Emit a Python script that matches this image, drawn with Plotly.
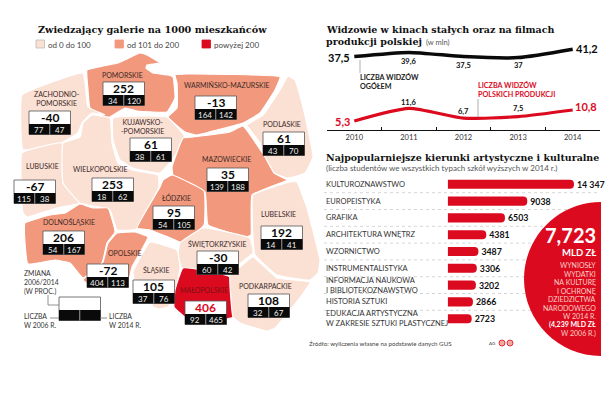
import plotly.graph_objects as go

SERIF = "DejaVu Serif"
SANS = "Lato"
RED = "#DC0A1E"
SALMON = "#F2987C"
PALE = "#FBE0D4"
DARK = "#2A2A2A"

# line chart
years = ["2010", "2011", "2012", "2013", "2014"]
viewers_total = [37.5, 39.6, 37.5, 37, 41.2]
viewers_polish = [5.3, 11.6, 6.7, 7.5, 10.8]

# bars
fields = ["KULTUROZNAWSTWO", "EUROPEISTYKA", "GRAFIKA", "ARCHITEKTURA WNĘTRZ", "WZORNICTWO",
          "INSTRUMENTALISTYKA", "INFORMACJA NAUKOWA<br>I BIBLIOTEKOZNAWSTWO", "HISTORIA SZTUKI",
          "EDUKACJA ARTYSTYCZNA<br>W ZAKRESIE SZTUKI PLASTYCZNEJ"]
students = [14347, 9038, 6503, 4381, 3487, 3306, 3202, 2866, 2723]

# map values
regions = ["POMORSKIE", "WARMIŃSKO-MAZURSKIE", "ZACHODNIO-<br>POMORSKIE", "KUJAWSKO-<br>-POMORSKIE", "PODLASKIE",
           "MAZOWIECKIE", "LUBUSKIE", "WIELKOPOLSKIE", "ŁÓDZKIE", "DOLNOŚLĄSKIE", "LUBELSKIE", "OPOLSKIE",
           "ŚWIĘTOKRZYSKIE", "ŚLĄSKIE", "MAŁOPOLSKIE", "PODKARPACKIE"]
change = [252, -13, -40, 61, 61, 35, -67, 253, 95, 206, 192, -72, -30, 105, 406, 108]
visits_2006 = [34, 164, 77, 38, 43, 139, 115, 18, 54, 54, 14, 404, 60, 37, 92, 32]
visits_2014 = [120, 142, 47, 61, 70, 188, 38, 62, 105, 167, 41, 113, 42, 76, 465, 67]

# map drawing, in page pixels
outlines = [
    [(87, 70), (103, 66), (118, 63), (127, 59), (140, 53), (147, 55), (160, 63), (147, 65), (146, 68), (153, 73),
     (168, 75), (173, 77), (175, 98), (167, 112), (137, 111), (125, 108), (110, 117), (105, 117), (90, 108), (88, 90)],
    [(175, 75), (187, 74), (280, 77), (275, 90), (260, 113), (243, 123), (217, 130), (197, 135), (185, 132),
     (168, 117), (177, 108), (177, 83)],
    [(22, 95), (83, 73), (88, 107), (105, 115), (92, 113), (82, 123), (78, 133), (63, 142), (23, 150), (21, 133)],
    [(113, 118), (140, 116), (167, 117), (185, 137), (172, 160), (160, 173), (133, 168), (120, 160), (113, 140)],
    [(288, 76), (295, 80), (303, 107), (313, 157), (305, 173), (293, 177), (287, 178), (267, 170), (260, 143),
     (247, 125), (263, 115), (280, 90)],
    [(243, 126), (265, 157), (274, 173), (287, 180), (252, 195), (251, 235), (247, 237), (208, 225), (205, 192),
     (173, 175), (172, 167), (183, 138), (193, 137), (230, 132)],
    [(22, 153), (62, 143), (63, 183), (80, 203), (57, 208), (27, 217), (23, 213)],
    [(63, 143), (80, 137), (83, 123), (92, 115), (110, 118), (112, 143), (118, 163), (132, 170), (158, 175),
     (159, 186), (137, 229), (117, 230), (110, 210), (80, 203), (63, 183)],
    [(172, 175), (204, 191), (204, 225), (183, 243), (168, 237), (150, 230), (137, 228), (160, 187), (163, 180)],
    [(25, 223), (50, 215), (65, 213), (80, 204), (93, 208), (108, 208), (115, 232), (107, 243), (102, 263),
     (83, 278), (70, 263), (55, 260), (28, 264), (25, 243)],
    [(253, 195), (290, 182), (297, 182), (307, 208), (320, 260), (318, 273), (310, 280), (277, 275), (255, 255),
     (253, 238)],
    [(117, 233), (135, 232), (148, 237), (132, 267), (127, 287), (93, 287), (83, 280), (103, 262), (108, 243)],
    [(180, 243), (203, 228), (250, 238), (253, 253), (238, 265), (230, 277), (182, 268), (178, 255)],
    [(150, 242), (177, 250), (180, 268), (174, 297), (168, 307), (160, 309), (153, 307), (147, 287), (135, 283),
     (133, 272)],
    [(183, 268), (230, 277), (234, 317), (227, 319), (185, 317), (174, 307), (175, 290)],
    [(253, 257), (277, 278), (310, 282), (302, 295), (275, 328), (267, 331), (240, 323), (233, 317), (230, 275),
     (240, 267)],
]
label_pos = [(122, 75), (227, 85), (57, 98), (142, 126), (282, 124), (226, 159), (42, 166), (100, 169), (176, 197),
             (69, 222), (278, 214), (124, 253), (217, 244), (156, 270), (204, 290), (265, 286)]
box_pos = [(103, 82), (195, 96), (29, 111), (130, 138), (263, 132), (207, 168), (14, 180), (92, 178), (153, 206),
           (43, 231), (261, 226), (87, 264), (197, 251), (133, 280), (185, 301), (248, 294)]
BOX_W, BOX_TOP, BOX_H = 41.5, 13, 23.5

fig = go.Figure()

region_class = [SALMON, SALMON, PALE, PALE, PALE, SALMON, PALE, PALE, SALMON, SALMON, PALE, SALMON, PALE, PALE, RED, PALE]
for pts, col in zip(outlines, region_class):
    xs = [p[0] for p in pts] + [pts[0][0]]
    ys = [p[1] for p in pts] + [pts[0][1]]
    fig.add_trace(go.Scatter(x=xs, y=ys, xaxis="x3", yaxis="y3", mode="lines", fill="toself", fillcolor=col,
                             line=dict(color="white", width=1.2, shape="spline", smoothing=0.3), hoverinfo="skip"))

fig.add_trace(go.Scatter(x=years, y=viewers_total, mode="lines",
                         line=dict(color="#0A0A0A", width=3.5, shape="spline", smoothing=0.6)))
fig.add_trace(go.Scatter(x=years, y=viewers_polish, mode="lines",
                         line=dict(color=RED, width=3.2, shape="spline", smoothing=0.6)))

fig.add_trace(go.Bar(y=list(range(len(students))), x=students, orientation="h", xaxis="x2", yaxis="y2",
                     marker=dict(color=RED, cornerradius=4, line=dict(width=0)), width=0.54,
                     text=[f"{v:,}".replace(",", " ") if v >= 10000 else str(v) for v in students],
                     textposition="outside", cliponaxis=False,
                     constraintext="none", textfont=dict(family=SANS, size=8.8, color="#111", weight="bold")))

shapes = []
notes = []


def note(x, y, text, size=7.5, color=DARK, bold=False, anchor="left", family=SANS):
    # annotations carry about 2px of padding on the anchored side
    if anchor == "left":
        x -= 2
    notes.append(dict(x=x, y=y, xref="x3", yref="y3", text=text, showarrow=False, xanchor=anchor, yanchor="middle",
                      align=anchor, font=dict(family=family, size=size, color=color, weight="bold" if bold else "normal")))


def rect(x0, y0, x1, y1, fill, line=None):
    shapes.append(dict(type="rect", xref="x3", yref="y3", x0=x0, y0=y0, x1=x1, y1=y1, fillcolor=fill,
                       line=dict(color=line or fill, width=0.8 if line else 0), layer="above"))


def seg(x0, y0, x1, y1, color="#777", width=0.8, dash="solid"):
    shapes.append(dict(type="line", xref="x3", yref="y3", x0=x0, y0=y0, x1=x1, y1=y1,
                       line=dict(color=color, width=width, dash=dash), layer="above"))


def value_box(x, y, top="", left="", right="", top_color="#0A0A0A"):
    rect(x, y, x + BOX_W, y + BOX_H, "white", "#555")
    rect(x, y + BOX_TOP, x + BOX_W, y + BOX_H, "#0A0A0A")
    seg(x + BOX_W / 2, y + BOX_TOP, x + BOX_W / 2, y + BOX_H, "#DDD", 0.7)
    if top != "":
        note(x + BOX_W / 2, y + 6.5, str(top), 12, top_color, True, "center")
        note(x + BOX_W / 4, y + 18.5, str(left), 8, "#EEE", False, "center")
        note(x + 3 * BOX_W / 4, y + 18.5, str(right), 8, "#EEE", False, "center")


# map labels and boxes
for i, name in enumerate(regions):
    lx, ly = label_pos[i]
    col = "#7A1015" if name == "MAŁOPOLSKIE" else "#3A2A28"
    note(lx, ly, name, 7, col, False, "center")
    bx, by = box_pos[i]
    value_box(bx, by, change[i], visits_2006[i], visits_2014[i], RED if name == "MAŁOPOLSKIE" else "#0A0A0A")

# map titles and legend
note(38, 29, "Zwiedzający galerie na 1000 mieszkańców", 9.7, "#111", True, "left", SERIF)
for x0, col, txt in [(36, PALE, "od 0 do 100"), (115, SALMON, "od 101 do 200"), (202, RED, "powyżej 200")]:
    rect(x0, 40, x0 + 8.5, 48, col, "#BBB" if col == PALE else col)
    note(x0 + 12, 44.5, txt, 8, "#444")
value_box(59, 297)
note(24, 282, "ZMIANA<br>2006/2014<br>(W PROC.)", 6.8, "#333")
note(24, 320, "LICZBA<br>W 2006 R.", 6.8, "#333")
note(109, 320, "LICZBA<br>W 2014 R.", 6.8, "#333")
seg(48, 295, 48, 305)
seg(48, 305, 59, 305)
seg(50, 318, 59, 318)
seg(100, 318, 107, 318)

# line chart texts
note(326, 29, "Widzowie w kinach stałych oraz na filmach", 9.5, "#111", True, "left", SERIF)
note(326, 41, "produkcji polskiej", 9.5, "#111", True, "left", SERIF)
note(426, 42, "(w mln)", 7.5, "#555")
note(360, 82, "LICZBA WIDZÓW<br>OGÓŁEM", 7.2, "#222", True)
note(478, 90, "LICZBA WIDZÓW<br>POLSKICH PRODUKCJI", 7.2, RED, True)
seg(360, 60, 360, 73, "#999")
seg(478, 99, 478, 117, "#999")

viewer_labels = []
total_shift = [(-15, -1), (0, -9), (0, -9), (0, -8), (14, 1)]
polish_shift = [(-12, 0), (0, 6), (0, 7), (0, 8), (13, 4)]
for i, yr in enumerate(years):
    for vals, shift, col in [(viewers_total, total_shift, "#0A0A0A"), (viewers_polish, polish_shift, RED)]:
        big = i in (0, 4)
        dx, dy = shift[i]
        viewer_labels.append(dict(x=i, y=vals[i], xref="x", yref="y", text=str(vals[i]).replace(".", ","),
                                  showarrow=False, xshift=dx, yshift=dy,
                                  font=dict(family=SANS, size=11 if big else 7.5,
                                            color=col if big else "#111", weight="bold")))

# bar section texts
note(326, 157, "Najpopularniejsze kierunki artystyczne i kulturalne", 9.45, "#111", True, "left", SERIF)
note(326, 168, "(liczba studentów we wszystkich typach szkół wyższych w 2014 r.)", 8, "#555")
rows_top, row_h = 175.9, 16.8
for i, name in enumerate(fields):
    notes.append(dict(x=324, y=i, xref="x3", yref="y2", text=name, showarrow=False, xanchor="left", align="left",
                      font=dict(family=SANS, size=7.5, color="#333")))
    if i:
        seg(324, rows_top + i * row_h, 600, rows_top + i * row_h, "#BBB", 0.6, "dot")

# red half circle
k = 0.5523 * 77
shapes.append(dict(type="path", xref="x3", yref="y3", layer="above", fillcolor=RED, line=dict(width=0),
                   path=f"M 601 202 C {601 - k} 202 524 {279 - k} 524 279 C 524 {279 + k} {601 - k} 356 601 356 Z"))
note(598, 235, "7,723", 20, "white", True, "right")
note(598, 252, "MLD ZŁ", 9.5, "white", True, "right")
pink = "#FAD0C6"
for y, txt in zip([265, 274, 282, 291, 299, 308, 316], ["WYNIOSŁY", "WYDATKI", "NA KULTURĘ", "I OCHRONĘ", "DZIEDZICTWA",
                                                        "NARODOWEGO", "W 2014 R."]):
    note(598, y, txt, 7, pink, False, "right")
note(598, 324, "(4,239 MLD ZŁ", 7, "white", True, "right")
note(598, 333, "W 2006 R.)", 7, pink, False, "right")

# source
note(309, 343, "Źródło: wyliczenia własne na podstawie danych GUS", 6.2, "#444")
note(489, 343, "AG", 4.5, "#444")
for cx in [502, 510]:
    shapes.append(dict(type="circle", xref="x3", yref="y3", x0=cx - 3, x1=cx + 3, y0=340, y1=346, layer="above",
                       fillcolor="#F4A9A0", line=dict(color=RED, width=0.8)))

fig.update_layout(
    width=615, height=405, margin=dict(l=0, r=0, t=0, b=0), plot_bgcolor="rgba(0,0,0,0)", paper_bgcolor="white",
    showlegend=False, shapes=shapes, annotations=notes + viewer_labels,
    xaxis=dict(domain=[327 / 615, 600 / 615], type="category", categoryorder="array", categoryarray=years,
               range=[-0.5, 4.5], tickson="boundaries", ticks="inside", ticklen=3, tickcolor="#111", showline=True,
               linecolor="#111", linewidth=1, showgrid=False, zeroline=False, anchor="y",
               tickfont=dict(family=SANS, size=7.5, color="#333")),
    yaxis=dict(domain=[1 - 130 / 405, 1 - 45 / 405], range=[0.8, 43.3], visible=False, anchor="x"),
    xaxis2=dict(domain=[447.7 / 615, 600 / 615], range=[0, 17306], visible=False, anchor="y2"),
    yaxis2=dict(domain=[1 - 327.1 / 405, 1 - 175.9 / 405], range=[8.5, -0.5], visible=False, anchor="x2"),
    xaxis3=dict(domain=[0, 1], range=[0, 615], visible=False, anchor="y3"),
    yaxis3=dict(domain=[0, 1], range=[405, 0], visible=False, anchor="x3"),
)

fig.write_html("out.html", config={"displayModeBar": False}, post_script="document.body.style.margin='0'")
